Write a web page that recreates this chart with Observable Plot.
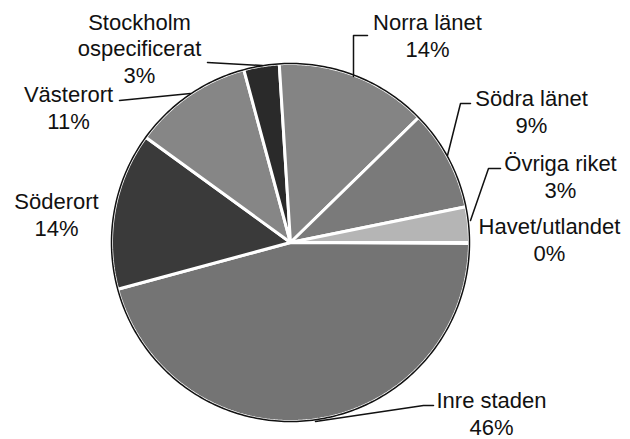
<!DOCTYPE html>
<html><head><meta charset="utf-8">
<script src="https://cdn.jsdelivr.net/npm/d3@7"></script>
<script src="https://cdn.jsdelivr.net/npm/@observablehq/plot@0.6"></script>
<style>body{margin:0;background:#fff} #chart svg{display:block}</style>
</head><body><div id="chart"></div>
<script>
// Data (clockwise, first slice starts at 3 o'clock)
const categories = ["Havet/utlandet","Inre staden","Söderort","Västerort","Stockholm ospecificerat","Norra länet","Södra länet","Övriga riket"];
const values = [0.1, 45.7, 14.2, 10.8, 3.2, 13.7, 9.1, 3.2];
const nameLabels = ["Havet/utlandet","Inre staden","Söderort","Västerort","Stockholm\nospecificerat","Norra länet","Södra länet","Övriga riket"];
const percentLabels = ["0%","46%","14%","11%","3%","14%","9%","3%"];

// Styles / layout
const fills = ["#9a9a9a","#747474","#3a3a3a","#868686","#2a2a2a","#848484","#7a7a7a","#b5b5b5"];
const W = 630, H = 439, CX = 290, CY = 242, R = 179;
const toX = px => (px - CX) / R, toY = py => (CY - py) / R;
const labelLayout = {
  "Havet/utlandet": {x: 549, y: 260, leader: null},
  "Inre staden": {x: 491, y: 434, leader: [[433,405],[423,405],[315,421]]},
  "Söderort": {x: 56, y: 235, leader: null},
  "Västerort": {x: 68, y: 128, leader: [[119,100],[190,93]]},
  "Stockholm ospecificerat": {x: 139, y: 82, leader: [[207,62],[262,65]]},
  "Norra länet": {x: 427, y: 56, leader: [[367,35],[353,35],[353,76]]},
  "Södra länet": {x: 531, y: 132, leader: [[470,103],[460,103],[447,155]]},
  "Övriga riket": {x: 560, y: 197, leader: [[500,168],[488,168],[470,220]]}
};

const arcs = d3.pie().sort(null).value(d => d.value)
  .startAngle(Math.PI / 2).endAngle(Math.PI / 2 + 2 * Math.PI)
  (categories.map((c, i) => ({name: c, value: values[i]})));

const slicePts = [];
arcs.forEach(a => {
  const name = a.data.name;
  slicePts.push({name, x: 0, y: 0});
  const n = Math.max(2, Math.ceil((a.endAngle - a.startAngle) / (Math.PI / 360)));
  for (let k = 0; k <= n; k++) {
    const t = a.startAngle + (a.endAngle - a.startAngle) * k / n;
    slicePts.push({name, x: Math.sin(t), y: Math.cos(t)});
  }
  slicePts.push({name, x: 0, y: 0});
});
const circlePts = d3.range(0, 361).map(d => ({x: Math.sin(d * Math.PI / 180), y: Math.cos(d * Math.PI / 180)}));

const labels = categories.map((c, i) => ({
  name: c,
  text: nameLabels[i] + "\n" + percentLabels[i],
  x: toX(labelLayout[c].x), y: toY(labelLayout[c].y)
}));
const leaders = [];
categories.forEach(c => {
  const L = labelLayout[c].leader;
  if (L) L.forEach(([px, py]) => leaders.push({name: c, x: toX(px), y: toY(py)}));
});

const chart = Plot.plot({
  width: W, height: H,
  margin: 0,
  x: {domain: [toX(0), toX(W)], axis: null},
  y: {domain: [toY(H), toY(0)], axis: null},
  color: {type: "ordinal", domain: categories, range: fills},
  style: {background: "white"},
  marks: [
    Plot.line(slicePts, {x: "x", y: "y", z: "name", fill: "name", stroke: "white", strokeWidth: 3, strokeLinejoin: "miter", curve: "linear"}),
    Plot.line(circlePts, {x: "x", y: "y", stroke: "#111", strokeWidth: 1.5}),
    Plot.line(leaders, {x: "x", y: "y", z: "name", stroke: "#111", strokeWidth: 1.5}),
    Plot.text(labels, {x: "x", y: "y", text: "text", textAnchor: "middle", lineAnchor: "bottom", lineHeight: 1.2,
      fontSize: 22, fontFamily: "'Liberation Sans', Arial, sans-serif", fill: "#111"})
  ]
});
document.getElementById("chart").appendChild(chart);
</script>
</body></html>
